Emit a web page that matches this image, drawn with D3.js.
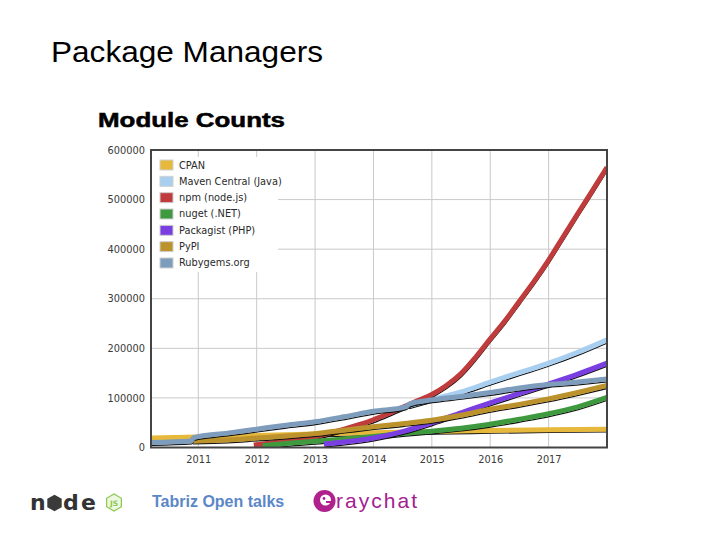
<!DOCTYPE html>
<html><head><meta charset="utf-8">
<script src="https://cdn.jsdelivr.net/npm/d3@7/dist/d3.min.js"></script>
<style>body{margin:0;background:#fff}svg{display:block}</style>
</head><body><svg id="c" width="720" height="540"></svg>
<script>
// ---- data ----
const seriesNames = ["CPAN","Maven Central (Java)","npm (node.js)","nuget (.NET)","Packagist (PHP)","PyPI","Rubygems.org"];
const seriesColors = ["#e6b83c","#a8cff0","#c03c3c","#3f9a3f","#7a3fe0","#bb922c","#7e9cbb"];
const yearTicks = [2011,2012,2013,2014,2015,2016,2017];
const valueTicks = [0,100000,200000,300000,400000,500000,600000];

const cpan = [[2010.19,19000],[2011,21000],[2012,24000],[2013,27000],[2014,30000],[2015,32500],[2016,34500],[2017,36000],[2018,37000]];
const maven = [[2014.6,84000],[2015,97000],[2015.5,112000],[2016,132000],[2016.5,151000],[2017,170000],[2017.5,192000],[2018,217000]];
const npm = [[2011.95,5000],[2012.25,9000],[2012.5,12500],[2012.75,17000],[2013,22000],[2013.25,29000],[2013.5,37000],[2013.75,46000],[2014,56000],[2014.25,68000],[2014.5,81000],[2014.75,94000],[2015,107000],[2015.25,125000],[2015.5,149000],[2015.75,182000],[2016,219000],[2016.25,255000],[2016.5,295000],[2016.75,335000],[2017,378000],[2017.25,425000],[2017.5,472000],[2017.75,518000],[2018,565000]];
const nuget = [[2012.1,3500],[2012.5,8000],[2013,12500],[2013.5,17000],[2014,22000],[2014.5,28000],[2015,33000],[2015.5,39000],[2016,47000],[2016.5,57000],[2017,68000],[2017.5,82000],[2018,101000]];
const packagist = [[2013.15,7000],[2013.5,11000],[2014,19000],[2014.5,32000],[2015,50000],[2015.5,70000],[2016,90000],[2016.5,109000],[2017,128000],[2017.5,148000],[2018,170000]];
const pypi = [[2010.9,13000],[2011.5,15000],[2012,19000],[2012.5,23000],[2013,28000],[2013.5,35000],[2014,42000],[2014.5,48000],[2015,55000],[2015.5,65000],[2016,77000],[2016.5,87000],[2017,98000],[2017.5,111000],[2018,125000]];
const rubygems = [[2010.19,10000],[2010.88,13000],[2010.92,20000],[2011.5,29000],[2012,37000],[2012.5,45000],[2013,52000],[2013.5,62000],[2014,73000],[2014.55,82000],[2014.62,88000],[2015,96000],[2015.5,103000],[2016,111000],[2016.5,120000],[2017,127000],[2017.5,132000],[2018,138000]];
const seriesData = [cpan, maven, npm, nuget, packagist, pypi, rubygems];

// ---- layout ----
const svg = d3.select("#c");
const L = 151, R = 607, T = 150, B = 447.5;
const x = d3.scaleLinear().domain([2010.19, 2018.0]).range([L, R]);
const y = d3.scaleLinear().domain([0, 600000]).range([B, T]);

// slide title
svg.append("text").attr("x",51).attr("y",62)
  .attr("font-family","'Liberation Sans', Arial, sans-serif").attr("font-size",30)
  .attr("textLength",272).attr("lengthAdjust","spacingAndGlyphs")
  .attr("fill","#000").text("Package Managers");

// chart title
svg.append("text").attr("x",98).attr("y",127)
  .attr("font-family","'Liberation Sans', Arial, sans-serif").attr("font-weight","bold").attr("font-size",19.5)
  .attr("textLength",187).attr("lengthAdjust","spacingAndGlyphs")
  .attr("stroke","#000").attr("stroke-width",0.5)
  .attr("fill","#000").text("Module Counts");

// grid
const grid = svg.append("g");
grid.selectAll("line.h").data(valueTicks).join("line")
  .attr("x1",L).attr("x2",R).attr("y1",d=>y(d)).attr("y2",d=>y(d))
  .attr("stroke","#c9c9c9").attr("stroke-width",1);
grid.selectAll("line.v").data(yearTicks).join("line")
  .attr("y1",T).attr("y2",B).attr("x1",d=>x(d)).attr("x2",d=>x(d))
  .attr("stroke","#c9c9c9").attr("stroke-width",1);

// axes labels via d3 axes
const yAxis = d3.axisLeft(y).tickValues(valueTicks).tickSize(0).tickPadding(6).tickFormat(d3.format("d"));
const gy = svg.append("g").attr("transform",`translate(${L},0)`).call(yAxis);
gy.select(".domain").remove();
gy.selectAll("text").attr("font-family","'DejaVu Sans', sans-serif").attr("font-size",9.8).attr("fill","#3a3a3a");

const xAxis = d3.axisBottom(x).tickValues(yearTicks).tickSize(0).tickPadding(9).tickFormat(d3.format("d"));
const gx = svg.append("g").attr("transform",`translate(0,${B})`).call(xAxis);
gx.select(".domain").remove();
gx.selectAll("text").attr("font-family","'DejaVu Sans', sans-serif").attr("font-size",9.8).attr("fill","#3a3a3a");

// clip
svg.append("clipPath").attr("id","plotclip").append("rect")
  .attr("x",L).attr("y",T).attr("width",R-L).attr("height",B-T);

const line = d3.line().x(d=>x(d[0])).y(d=>y(d[1])).curve(d3.curveMonotoneX);
const lines = svg.append("g").attr("clip-path","url(#plotclip)");
seriesData.forEach((s,i)=>{
  lines.append("path").attr("d",line(s)).attr("fill","none")
    .attr("stroke","#111").attr("stroke-width",1.3)
    .attr("transform","translate(0.6,2.8)");
  lines.append("path").attr("d",line(s)).attr("fill","none")
    .attr("stroke",seriesColors[i]).attr("stroke-width",5)
    .attr("stroke-linejoin","round").attr("stroke-linecap","butt");
});

// legend
const lg = svg.append("g");
lg.append("rect").attr("x",152).attr("y",157).attr("width",126).attr("height",115).attr("fill","#fff");
seriesNames.forEach((n,i)=>{
  const cy = 165 + i*16.33;
  lg.append("rect").attr("x",160).attr("y",cy-5).attr("width",13).attr("height",10)
    .attr("fill",seriesColors[i]).attr("stroke","#d0d0d0").attr("stroke-width",1);
  lg.append("text").attr("x",179).attr("y",cy+3.5)
    .attr("font-family","'DejaVu Sans', sans-serif").attr("font-size",9.8).attr("fill","#2a2a2a").text(n);
});

// frame
svg.append("rect").attr("x",L).attr("y",T).attr("width",R-L).attr("height",B-T)
  .attr("fill","none").attr("stroke","#444").attr("stroke-width",2);

// ---- footer ----
const ft = svg.append("g");
const nodeFont = "'DejaVu Sans', sans-serif";
ft.append("text").attr("x",30).attr("y",510).attr("font-family",nodeFont).attr("font-weight","bold")
  .attr("font-size",22).attr("fill","#333").text("n");
const hex = (cx,cy,r)=>d3.range(6).map(k=>{const a=Math.PI/3*k+Math.PI/6;return [cx+r*Math.cos(a),cy+r*Math.sin(a)];});
ft.append("path").attr("d",d3.line()(hex(54.5,503,8.3))+"Z").attr("fill","#3a3a3a");
ft.append("text").attr("x",63).attr("y",510).attr("font-family",nodeFont).attr("font-weight","bold")
  .attr("font-size",22).attr("fill","#333").text("d");
ft.append("text").attr("x",81).attr("y",510).attr("font-family",nodeFont).attr("font-weight","bold")
  .attr("font-size",22).attr("fill","#333").text("e");
ft.append("path").attr("d",d3.line()(hex(114,502.5,8.5))+"Z").attr("fill","#eef7e4").attr("stroke","#8cc84b").attr("stroke-width",1.2);
ft.append("text").attr("x",114).attr("y",505.5).attr("text-anchor","middle").attr("font-family",nodeFont)
  .attr("font-size",7.5).attr("font-weight","bold").attr("fill","#8cc84b").text("JS");

ft.append("text").attr("x",152).attr("y",507).attr("font-family","'Liberation Sans', Arial, sans-serif")
  .attr("font-weight","bold").attr("font-size",16).attr("fill","#5b87c7").text("Tabriz Open talks");

ft.append("circle").attr("cx",324.5).attr("cy",501).attr("r",11).attr("fill","#b0218e");
ft.append("circle").attr("cx",325.5).attr("cy",500).attr("r",5.5).attr("fill","#fff");
ft.append("circle").attr("cx",324).attr("cy",498.5).attr("r",1.4).attr("fill","#b0218e");
ft.append("rect").attr("x",326).attr("y",501).attr("width",6).attr("height",2).attr("fill","#b0218e");
ft.append("text").attr("x",336).attr("y",508).attr("font-family","'Liberation Sans', Arial, sans-serif")
  .attr("font-size",21).attr("fill","#a3208f").attr("textLength",81).attr("lengthAdjust","spacing").text("raychat");
</script></body></html>
